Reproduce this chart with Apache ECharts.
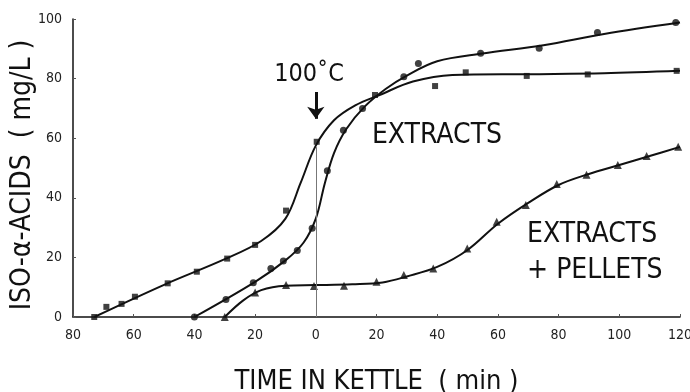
<!DOCTYPE html>
<html>
<head>
<meta charset="utf-8">
<script src="https://cdn.jsdelivr.net/npm/echarts@6/dist/echarts.min.js"></script>
<style>html,body{margin:0;padding:0;background:#fff}#c{width:690px;height:392px}</style>
</head>
<body>
<div id="c"></div>
<script>
// Measured points (x = min relative to reaching 100°C, y = mg/L)
const extractsSquares = [[-73,0],[-69,3.4],[-64,4.4],[-59.6,6.8],[-48.8,11.3],[-39.2,15.2],[-29.2,19.6],[-20,24.2],[-9.8,35.7],[0.3,58.8],[19.5,74.5],[39.3,77.5],[49.4,82.1],[69.5,80.9],[89.6,81.4],[118.9,82.6]];
const extractsCircles = [[-40,0],[-29.6,5.9],[-20.6,11.5],[-14.8,16.3],[-10.7,18.8],[-6.1,22.3],[-1.2,29.8],[3.8,49.1],[9.1,62.7],[15.4,70],[29,80.6],[33.8,85.1],[54.3,88.5],[73.6,90.2],[92.8,95.5],[118.6,98.8]];
const pelletsTriangles = [[-30,0],[-20,8.2],[-9.8,10.7],[-0.6,10.4],[9.3,10.5],[20,11.8],[29,14.1],[38.7,16.3],[49.9,23],[59.6,32],[69.2,37.6],[79.4,44.6],[89.2,47.7],[99.5,51],[109,54],[119.4,57.1]];
// Hand-drawn fitted curves
const curveSquares = [[-73,0],[-50,10.8],[-30,19.4],[-18,25.5],[-10,33],[-5,45],[0,57.5],[6,66],[13,71],[21,74.5],[32,79],[45,81.2],[70,81.5],[95,81.8],[120,82.6]];
const curveCircles = [[-40,0],[-20,11.8],[-10,19],[-4,25],[0,33],[3,45],[6,55],[10,63],[16,70.5],[23,76.5],[30,81],[40,85.8],[55,88.4],[75,91.2],[95,95],[120,98.8]];
const curvePellets = [[-30,0],[-24,5.5],[-18,9],[-10,10.5],[0,10.7],[12,11],[22,11.6],[30,13.6],[40,16.8],[50,22.5],[60,31.3],[70,38.3],[80,44.3],[90,48],[100,51],[110,54],[120,57.1]];

const FONT = "'Liberation Sans Narrow','DejaVu Sans Condensed','Liberation Sans',sans-serif";
const chart = echarts.init(document.getElementById('c'), null, {renderer:'canvas'});
const lineS = (data, extra) => Object.assign({type:'line', data, smooth:0.35, showSymbol:false, silent:true,
  lineStyle:{color:'#111', width:2}, z:2}, extra || {});
const pts = (data, symbol, size) => ({type:'scatter', data, symbol, symbolSize:size, itemStyle:{color:'#111'}, silent:true, z:3});

chart.setOption({
  animation:false,
  backgroundColor:'#fff',
  grid:{left:73, right:10, top:19, bottom:75, containLabel:false, outerBoundsMode:'none'},
  xAxis:{type:'value', min:-80, max:120, interval:20,
    name:'TIME IN KETTLE  ( min )', nameLocation:'middle', nameGap:51, nameMoveOverlap:false,
    nameTextStyle:{fontFamily:FONT, fontSize:27, color:'#111'},
    axisLine:{show:true, onZero:false, lineStyle:{color:'#111', width:1.5}},
    axisTick:{show:true, inside:true, length:3, lineStyle:{color:'#555'}},
    axisLabel:{fontFamily:FONT, fontSize:14, color:'#222', margin:11, formatter:v=>String(Math.abs(v))},
    splitLine:{show:false}},
  yAxis:{type:'value', min:0, max:100, interval:20,
    name:'ISO-α-ACIDS  ( mg/L )', nameLocation:'middle', nameGap:36, nameRotate:90, nameMoveOverlap:false,
    nameTextStyle:{fontFamily:FONT, fontSize:28, color:'#111', padding:[0,14,0,0]},
    axisLine:{show:true, onZero:false, lineStyle:{color:'#111', width:1.5}},
    axisTick:{show:true, inside:true, length:3, lineStyle:{color:'#555'}},
    axisLabel:{fontFamily:FONT, fontSize:14, color:'#222', margin:11},
    splitLine:{show:false}},
  series:[
    lineS(curveSquares), lineS(curveCircles),
    lineS(curvePellets, {
      markLine:{silent:true, animation:false, label:{show:false}, symbol:['none','none'],
        data:[
          [{coord:[0,0], lineStyle:{color:'#777', width:1, type:'solid'}},{coord:[0,57]}],
          [{coord:[0,75.5], symbol:'none', lineStyle:{color:'#111', width:3, type:'solid'}},{coord:[0,66.5], symbol:'arrow', symbolSize:[13,12]}]
        ]},
      markPoint:{silent:true, animation:false, symbol:'circle', symbolSize:0,
        data:[
          {coord:[-2.2,81.5], label:{show:true, position:'inside', formatter:'100˚C', fontFamily:FONT, fontSize:25, color:'#111'}},
          {coord:[18.5,61], label:{show:true, position:'right', distance:0, formatter:'EXTRACTS', fontFamily:FONT, fontSize:28, color:'#111'}},
          {coord:[69.6,27.5], label:{show:true, position:'right', distance:0, formatter:'EXTRACTS', fontFamily:FONT, fontSize:28, color:'#111'}},
          {coord:[69.6,15.4], label:{show:true, position:'right', distance:0, formatter:'+ PELLETS', fontFamily:FONT, fontSize:28, color:'#111'}}
        ]}}),
    pts(extractsSquares,'rect',6), pts(extractsCircles,'circle',7), pts(pelletsTriangles,'triangle',8)
  ]
});
</script>
</body>
</html>
